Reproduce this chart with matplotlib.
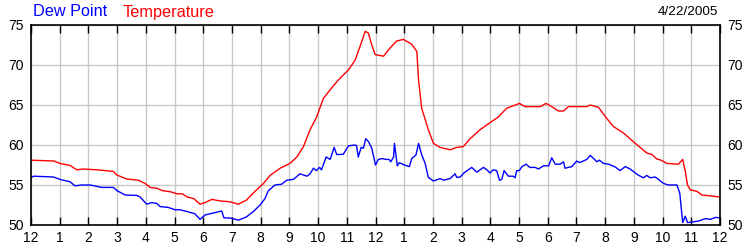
import matplotlib
matplotlib.use("Agg")
import matplotlib.pyplot as plt

plt.rcParams['font.family'] = ['Liberation Sans', 'DejaVu Sans']

# hours since midnight, degrees F
temp_hours = [0, 0.8, 1.0, 1.36, 1.59, 1.8, 2.29, 2.87, 2.99, 3.33, 3.74, 3.97, 4.15, 4.38,
              4.57, 4.86, 5.09, 5.27, 5.44, 5.67, 5.89, 6.06, 6.3, 6.6, 6.93, 7.22, 7.5,
              7.8, 8.1, 8.33, 8.68, 9.02, 9.26, 9.49, 9.72, 9.95, 10.18, 10.42, 10.65,
              10.88, 11.06, 11.29, 11.46, 11.64, 11.75, 11.87, 11.99, 12.28, 12.5, 12.74,
              12.97, 13.26, 13.44, 13.5, 13.61, 13.84, 14.02, 14.25, 14.6, 14.83, 15.06,
              15.3, 15.64, 15.99, 16.28, 16.57, 16.8, 17.01, 17.21, 17.74, 17.94, 18.14,
              18.37, 18.55, 18.72, 19.36, 19.48, 19.77, 20.06, 20.29, 20.64, 21.05, 21.45,
              21.63, 21.8, 21.95, 22.15, 22.55, 22.7, 22.79, 22.87, 22.96, 23.2, 23.37,
              23.77, 24.0]
temp_vals = [58.1, 58.0, 57.7, 57.45, 56.9, 57.0, 56.9, 56.7, 56.25, 55.75, 55.6, 55.2, 54.7,
             54.6, 54.3, 54.15, 53.9, 53.9, 53.5, 53.3, 52.6, 52.8, 53.2, 53.0, 52.9, 52.6,
             53.1, 54.2, 55.2, 56.2, 57.1, 57.7, 58.5, 59.8, 61.9, 63.5, 65.8, 66.9, 67.9,
             68.75, 69.4, 70.6, 72.3, 74.2, 74.0, 72.5, 71.3, 71.1, 72.1, 73.0, 73.2, 72.6,
             71.7, 68.1, 64.6, 61.9, 60.2, 59.7, 59.4, 59.7, 59.8, 60.8, 61.9, 62.8, 63.5,
             64.6, 64.9, 65.2, 64.8, 64.8, 65.2, 64.8, 64.25, 64.25, 64.8, 64.8, 65.0, 64.7,
             63.3, 62.3, 61.5, 60.2, 59.0, 58.8, 58.25, 58.1, 57.7, 57.6, 58.2, 56.7, 55.0,
             54.4, 54.2, 53.75, 53.6, 53.5]

dew_hours = [0, 0.1, 0.78, 1.01, 1.36, 1.53, 1.77, 2.06, 2.46, 2.87, 2.99, 3.28, 3.68, 3.8,
             4.03, 4.2, 4.38, 4.5, 4.78, 5.02, 5.2, 5.42, 5.71, 5.89, 6.06, 6.35, 6.64, 6.72,
             6.99, 7.22, 7.5, 7.75, 7.98, 8.15, 8.27, 8.5, 8.73, 8.91, 9.14, 9.37, 9.61, 9.72,
             9.84, 9.94, 10.05, 10.12, 10.28, 10.42, 10.56, 10.65, 10.88, 11.06, 11.29, 11.34,
             11.4, 11.5, 11.58, 11.66, 11.76, 11.87, 12.0, 12.1, 12.24, 12.36, 12.47, 12.53,
             12.63, 12.66, 12.76, 12.83, 13.0, 13.18, 13.26, 13.41, 13.5, 13.61, 13.73, 13.84,
             14.02, 14.25, 14.37, 14.6, 14.77, 14.83, 14.95, 15.08, 15.35, 15.53, 15.76, 15.88,
             15.99, 16.1, 16.22, 16.32, 16.4, 16.48, 16.63, 16.8, 16.86, 16.92, 17.01, 17.1,
             17.25, 17.37, 17.56, 17.68, 17.85, 18.03, 18.14, 18.26, 18.43, 18.55, 18.6, 18.84,
             19.01, 19.1, 19.24, 19.36, 19.48, 19.6, 19.71, 19.8, 19.94, 20.12, 20.35, 20.52,
             20.7, 20.87, 21.05, 21.17, 21.33, 21.45, 21.57, 21.74, 21.86, 22.03, 22.2, 22.5,
             22.6, 22.7, 22.79, 22.87, 23.08, 23.26, 23.49, 23.66, 23.84, 24.0]
dew_vals = [55.95, 56.1, 56.0, 55.7, 55.4, 54.9, 55.0, 55.0, 54.7, 54.7, 54.3, 53.75, 53.7, 53.5,
            52.6, 52.8, 52.7, 52.3, 52.2, 51.9, 51.9, 51.7, 51.4, 50.7, 51.25, 51.5, 51.75, 50.9,
            50.85, 50.6, 51.0, 51.7, 52.5, 53.3, 54.3, 55.0, 55.1, 55.6, 55.7, 56.4, 56.1, 56.4,
            57.1, 56.8, 57.2, 56.9, 58.5, 58.2, 59.7, 58.8, 58.85, 59.9, 60.0, 59.9,
            58.5, 59.7, 59.6, 60.8, 60.4, 59.6, 57.5, 58.2, 58.3, 58.2, 58.2, 57.9,
            58.5, 60.2, 57.4, 57.8, 57.5, 57.3, 58.3, 58.75, 60.2, 58.75, 57.7, 55.95,
            55.5, 55.8, 55.6, 55.8, 56.4, 55.95, 56.0, 56.5, 57.2, 56.6, 57.2, 56.9,
            56.5, 56.9, 56.8, 55.6, 55.7, 56.8, 56.1, 56.1, 55.9, 56.8, 56.8, 57.3,
            57.6, 57.2, 57.2, 57.0, 57.4, 57.4, 58.4, 57.6, 57.6, 57.9, 57.1, 57.3,
            58.0, 57.8, 58.0, 58.2, 58.7, 58.3, 57.9, 58.1, 57.7, 57.6, 57.25, 56.8,
            57.3, 57.0, 56.5, 56.2, 55.9, 56.2, 55.9, 56.0, 55.7, 55.2, 55.0, 55.0,
            53.95, 50.3, 51.1, 50.3, 50.4, 50.5, 50.8, 50.7, 50.95, 50.9]

hour_labels = ['12'] + [str(h) for h in range(1, 12)] + ['12'] + [str(h) for h in range(1, 12)] + ['12']
y_ticks = [50, 55, 60, 65, 70, 75]

fig = plt.figure(figsize=(7.5, 2.5), dpi=100)
ax = fig.add_axes([31 / 750, 25 / 250, 689 / 750, 200 / 250])

ax.plot(dew_hours, dew_vals, color='#0000ff', lw=1)
ax.plot(temp_hours, temp_vals, color='#ff0000', lw=1)

ax.set_xlim(0, 24)
ax.set_ylim(50, 75)
ax.set_xticks(range(25))
ax.set_xticklabels(hour_labels)
ax.set_yticks(y_ticks)
ax.grid(True, color='#c8c8c8', lw=1)
ax.set_axisbelow(True)

ax.tick_params(axis='x', direction='in', length=6, width=1, top=True, labelsize=10, pad=4)
ax.tick_params(axis='y', length=0, labelsize=10, labelright=True, pad=5)
for s in ax.spines.values():
    s.set_linewidth(1.2)

fig.text(33 / 750, 1 - 12 / 250, 'Dew Point', color='#0000ff', fontsize=11.7, va='center')
fig.text(123 / 750, 1 - 12 / 250, 'Temperature', color='#ff0000', fontsize=11.7, va='center')
fig.text(718 / 750, 1 - 12 / 250, '4/22/2005', color='black', fontsize=9.7, va='center', ha='right')

fig.savefig('out.png', dpi=100)
